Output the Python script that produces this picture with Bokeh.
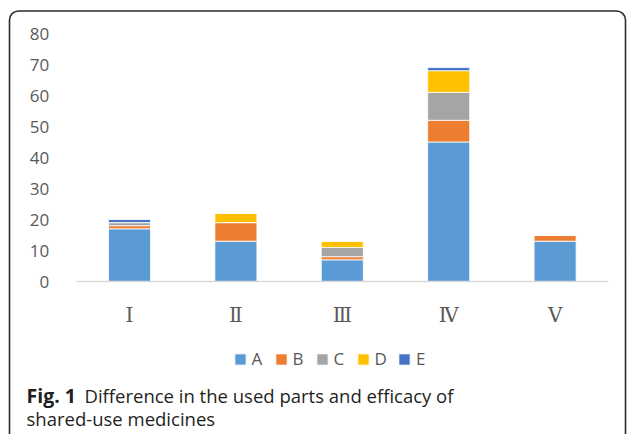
from bokeh.plotting import figure
from bokeh.models import Range1d, Legend, LegendItem, Label, BoxAnnotation, FixedTicker
from bokeh.embed import file_html
from bokeh.resources import INLINE

categories = ["Ⅰ", "Ⅱ", "Ⅲ", "Ⅳ", "Ⅴ"]
series = ["A", "B", "C", "D", "E"]
A = [17, 13, 7, 45, 13]
B = [1, 6, 1, 7, 2]
C = [1, 0, 3, 9, 0]
D = [0, 3, 2, 7, 0]
E = [1, 0, 0, 1, 0]
colors = ["#5B9BD5", "#ED7D31", "#A5A5A5", "#FFC000", "#4472C4"]
y_ticks = [0, 10, 20, 30, 40, 50, 60, 70, 80]
caption_bold = "Fig. 1"
caption_line1 = "Difference in the used parts and efficacy of"
caption_line2 = "shared-use medicines"

W, H = 627, 434
# pixel geometry of the canvas (whole canvas is the plot frame)
PX_PER_X = 106.4      # pixels per category
PX_PER_Y = 3.1        # pixels per unit value
X0_PX, Y0_PX = 129.0, 281.0   # pixel position of category 1 / value 0
x_start = 1 - X0_PX / PX_PER_X
x_end = x_start + W / PX_PER_X
y_end = Y0_PX / PX_PER_Y
y_start = y_end - H / PX_PER_Y

def px_x(px):
    return x_start + px / PX_PER_X

def px_y(py):
    return y_end - py / PX_PER_Y

positions = list(range(1, len(categories) + 1))

p = figure(width=W, height=H, x_range=Range1d(x_start, x_end),
           y_range=Range1d(y_start, y_end), output_backend="svg", toolbar_location=None,
           min_border=0)
p.outline_line_color = None
p.xgrid.grid_line_color = None
p.ygrid.grid_line_color = None

data = dict(x=positions, A=A, B=B, C=C, D=D, E=E)
rs = p.vbar_stack(series, x="x", width=0.395, color=colors, source=data,
                  line_color="white", line_width=0.8)

p.yaxis.fixed_location = 0.5
p.yaxis.bounds = (0, 80)
p.yaxis.ticker = FixedTicker(ticks=y_ticks)
p.yaxis.axis_line_color = None
p.yaxis.major_tick_line_color = None
p.yaxis.minor_tick_line_color = None
p.yaxis.major_label_standoff = 21
p.yaxis.major_label_text_font = "Open Sans"
p.yaxis.major_label_text_font_size = "17px"
p.yaxis.major_label_text_color = "#595959"

p.xaxis.fixed_location = 0
p.xaxis.bounds = (0.5, len(categories) + 0.5)
p.xaxis.ticker = FixedTicker(ticks=positions)
p.xaxis.major_label_overrides = {pos: c for pos, c in zip(positions, categories)}
p.xaxis.axis_line_color = "#D9D9D9"
p.xaxis.axis_line_width = 1.5
p.xaxis.major_tick_line_color = None
p.xaxis.minor_tick_line_color = None
p.xaxis.major_label_standoff = 15
p.xaxis.major_label_text_font = "DejaVu Serif"
p.xaxis.major_label_text_font_size = "20px"
p.xaxis.major_label_text_color = "#595959"

legend = Legend(items=[LegendItem(label=s, renderers=[r]) for s, r in zip(series, rs)],
                orientation="horizontal", location=(232.6, 64),
                glyph_width=14, glyph_height=14, label_standoff=5, spacing=10,
                label_width=12,
                label_text_font="Open Sans", label_text_font_size="17px",
                label_text_color="#595959", border_line_color=None,
                background_fill_alpha=0, margin=0, padding=0)
p.add_layout(legend)

frame = BoxAnnotation(left=px_x(9), right=px_x(625), top=px_y(10.5), bottom=px_y(H + 30),
                      fill_color=None, fill_alpha=0, line_color="#2B2B2B", line_alpha=1.0,
                      line_width=1.6, border_radius=9, level="overlay")
p.add_layout(frame)

cap_style = dict(text_font="Open Sans", text_color="#231F20", text_baseline="alphabetic")
p.add_layout(Label(x=px_x(26), y=px_y(395), text=caption_bold, text_font_style="bold",
                   text_font_size="19.5px", **cap_style))
p.add_layout(Label(x=px_x(84), y=px_y(395), text=caption_line1, text_font_size="18.5px", **cap_style))
p.add_layout(Label(x=px_x(26), y=px_y(418), text=caption_line2, text_font_size="18.5px", **cap_style))

open("out.html", "w").write(file_html(p, INLINE))
